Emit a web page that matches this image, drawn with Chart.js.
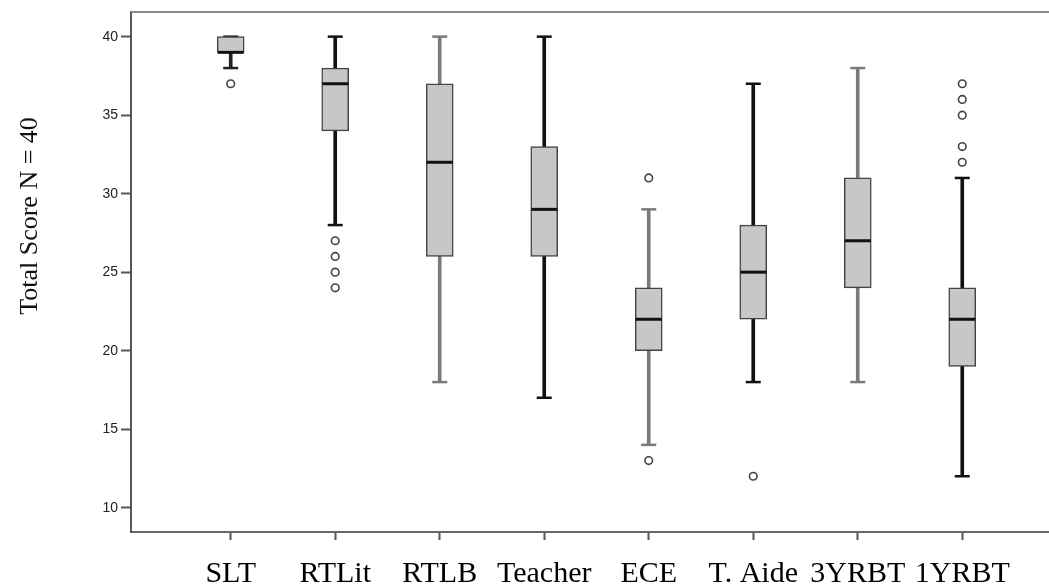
<!DOCTYPE html>
<html>
<head>
<meta charset="utf-8">
<script src="https://cdn.jsdelivr.net/npm/chart.js@4.4.1/dist/chart.umd.min.js"></script>
<style>
  html, body { margin: 0; padding: 0; background: #fff; }
  #wrap { width: 1049px; height: 588px; position: relative; }
</style>
</head>
<body>
<div id="wrap"><canvas id="boxChart"></canvas></div>
<script>
// dados
const categories = ["SLT", "RTLit", "RTLB", "Teacher", "ECE", "T. Aide", "3YRBT", "1YRBT"];
const whiskerLow = [38, 28, 18, 17, 14, 18, 18, 12];
const q1 = [39, 34, 26, 26, 20, 22, 24, 19];
const medians = [39, 37, 32, 29, 22, 25, 27, 22];
const q3 = [40, 38, 37, 33, 24, 28, 31, 24];
const whiskerHigh = [40, 40, 40, 40, 29, 37, 38, 31];
const outliers = [[37], [27, 26, 25, 24], [], [], [31, 13], [12], [], [37, 36, 35, 33, 32]];
const yTicks = [10, 15, 20, 25, 30, 35, 40];

// estilos
const whiskerColors = ["#222", "#111", "#7a7a7a", "#111", "#7a7a7a", "#111", "#7a7a7a", "#111"];
const boxFill = "#c6c8c5";
const boxLine = "#444";

const idx = categories.map((c, i) => i);

const capPoints = [];
const capColors = [];
idx.forEach(i => {
    capPoints.push({ x: i, y: whiskerLow[i] });
    capPoints.push({ x: i, y: whiskerHigh[i] });
    capColors.push(whiskerColors[i], whiskerColors[i]);
});
const outlierPoints = [];
outliers.forEach((list, i) => list.forEach(v => outlierPoints.push({ x: i, y: v })));

// linha superior do quadro + título do eixo y
const frameTop = {
    id: "frameTop",
    afterDraw(chart) {
        const { ctx, chartArea } = chart;
        ctx.save();
        ctx.strokeStyle = "#8a8a8a";
        ctx.lineWidth = 2;
        ctx.beginPath();
        ctx.moveTo(chartArea.left, chartArea.top);
        ctx.lineTo(chartArea.right, chartArea.top);
        ctx.stroke();
        ctx.translate(30, 216);
        ctx.rotate(-Math.PI / 2);
        ctx.fillStyle = "#111";
        ctx.font = "26px 'Liberation Serif', 'Times New Roman', serif";
        ctx.textAlign = "center";
        ctx.textBaseline = "middle";
        ctx.fillText("Total Score N = 40", 0, 0);
        ctx.restore();
    }
};

const ctx = document.getElementById("boxChart").getContext("2d");
new Chart(ctx, {
    type: "bar",
    data: {
        datasets: [
            {
                label: "whiskers",
                data: idx.map(i => ({ x: i, y: [whiskerLow[i], whiskerHigh[i]] })),
                backgroundColor: whiskerColors,
                borderWidth: 0,
                barThickness: 3,
                grouped: false,
                order: 7
            },
            {
                type: "scatter",
                label: "caps",
                data: capPoints,
                pointStyle: "line",
                pointRadius: 7.5,
                pointBorderWidth: 2.5,
                pointBorderColor: capColors,
                order: 6
            },
            {
                label: "box",
                data: idx.map(i => ({ x: i, y: [q1[i], q3[i]] })),
                backgroundColor: boxFill,
                borderColor: boxLine,
                borderWidth: 1.5,
                borderSkipped: false,
                barThickness: 27,
                grouped: false,
                order: 4
            },
            {
                type: "scatter",
                label: "median",
                data: idx.map(i => ({ x: i, y: medians[i] })),
                pointStyle: "line",
                pointRadius: 13,
                pointBorderWidth: 3,
                pointBorderColor: "#111",
                order: 2
            },
            {
                type: "scatter",
                label: "outliers",
                data: outlierPoints,
                pointStyle: "circle",
                pointRadius: 3.8,
                pointBorderWidth: 1.6,
                pointBorderColor: "#444",
                pointBackgroundColor: "#fff",
                order: 1
            }
        ]
    },
    options: {
        responsive: true,
        maintainAspectRatio: false,
        animation: false,
        layout: { autoPadding: false, padding: { top: 12, left: 0, right: 0, bottom: 0 } },
        plugins: {
            legend: { display: false },
            tooltip: { enabled: false }
        },
        scales: {
            x: {
                type: "linear",
                min: -0.954,
                max: 7.83,
                offset: false,
                afterBuildTicks: scale => { scale.ticks = idx.map(i => ({ value: i })); },
                afterFit: scale => {
                    scale.height = 56;
                    scale.paddingLeft = 0;
                    scale.paddingRight = 0;
                },
                grid: {
                    offset: false,
                    drawOnChartArea: false,
                    drawTicks: true,
                    tickLength: 8,
                    tickWidth: 2,
                    tickColor: "#555"
                },
                border: { display: true, color: "#666", width: 2 },
                ticks: {
                    autoSkip: false,
                    maxRotation: 0,
                    padding: 16,
                    color: "#000",
                    font: { family: "'Liberation Serif', 'Times New Roman', serif", size: 30 },
                    callback: v => categories[v]
                }
            },
            y: {
                min: 8.45,
                max: 41.57,
                afterBuildTicks: scale => { scale.ticks = yTicks.map(v => ({ value: v })); },
                afterFit: scale => {
                    scale.width = 131;
                    scale.paddingTop = 0;
                    scale.paddingBottom = 0;
                },
                grid: {
                    drawOnChartArea: false,
                    drawTicks: true,
                    tickLength: 10,
                    tickWidth: 2,
                    tickColor: "#555"
                },
                border: { display: true, color: "#555", width: 2 },
                ticks: {
                    padding: 3,
                    color: "#222",
                    font: { family: "'Liberation Sans', Arial, sans-serif", size: 14 }
                }
            }
        }
    },
    plugins: [frameTop]
});
</script>
</body>
</html>
